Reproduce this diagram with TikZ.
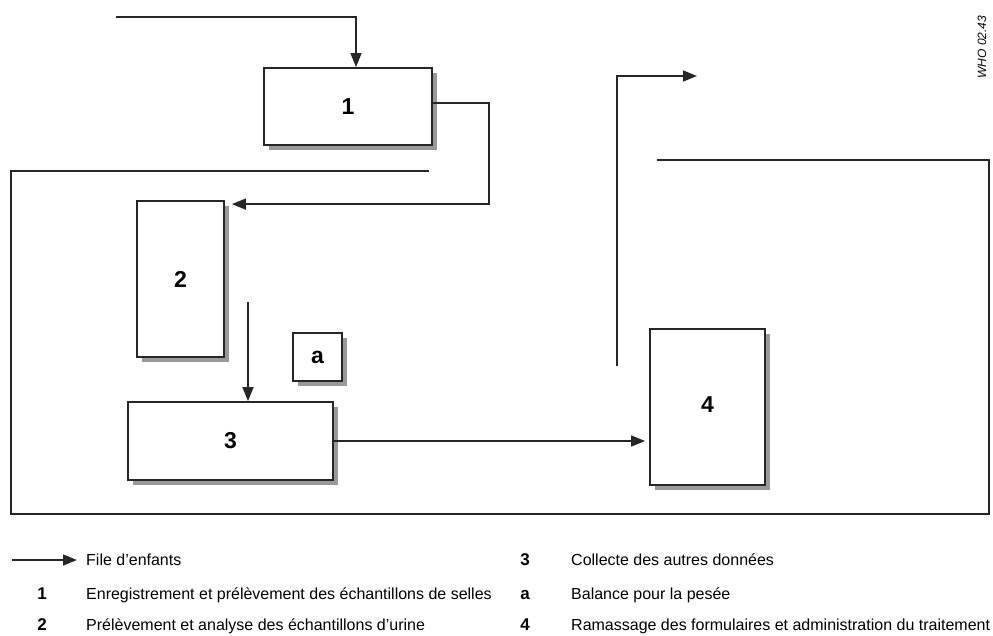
\documentclass[tikz,border=0pt]{standalone}
\usepackage{fontspec}
\setmainfont{Liberation Sans}
\usetikzlibrary{arrows.meta,shadows}
\begin{document}
\begin{tikzpicture}[x=1pt,y=-1pt,
  wall/.style={line width=1.7pt, draw=black!85},
  flow/.style={line width=1.5pt, draw=black!85, -{Triangle[length=14pt,width=11pt]}},
  room/.style={draw=black!85, line width=1.8pt, fill=white, inner sep=0pt,
     font=\fontsize{23}{26}\selectfont\bfseries,
     drop shadow={shadow xshift=5pt, shadow yshift=-5pt, fill=black!40, opacity=1}},
  lnum/.style={anchor=base, inner sep=0pt, font=\fontsize{17}{20}\selectfont\bfseries},
  ltext/.style={anchor=base west, inner sep=0pt, font=\fontsize{16}{19}\selectfont}
]
\useasboundingbox (0,0) rectangle (993,635);

% walls of the room
\draw[wall] (429,171) -- (11,171) -- (11,514) -- (989,514) -- (989,160) -- (657,160);

% stations
\node[room, minimum width=168pt, minimum height=77pt] (b1) at (348,106.5) {1};
\node[room, minimum width=87pt, minimum height=156pt] (b2) at (180.5,279) {2};
\node[room, minimum width=49pt, minimum height=48pt] (ba) at (317.5,357) {a};
\node[room, minimum width=205pt, minimum height=78pt] (b3) at (230.5,441) {3};
\node[room, minimum width=115pt, minimum height=156pt, text depth=0pt] (b4) at (707.5,407) {\raisebox{5pt}{4}};

% flow of children
\coordinate (in) at (116,17);
\draw[flow] (in) -| ([xshift=8pt]b1.north);
\draw[flow] ([yshift=3.5pt]b1.east) -- ++(56,0) |- ([xshift=7pt,yshift=-4pt]b2.north east);
\coordinate (d2) at (248,302);
\draw[flow] (d2) -- (d2 |- b3.north);
\draw[flow] (b3.east) -- ([xshift=-4pt]b3.east -| b4.west);
\coordinate (ex0) at (617,366);
\coordinate (ex1) at (697,76);
\draw[flow] (ex0) |- (ex1);

% code
\node[rotate=90, font=\fontsize{12}{14}\selectfont\itshape] (who) at (982,47) {WHO 02.43};

% legend
\node[ltext] (l0) at (86,565) {File d’enfants};
\coordinate (la) at (12,560);
\draw[flow, shorten >=9pt] (la) -- (la -| l0.west);
\node[lnum] (n1) at (42,599) {1};
\node[ltext] (t1) at (86,599) {Enregistrement et prélèvement des échantillons de selles};
\node[lnum] (n2) at (42,630) {2};
\node[ltext] (t2) at (86,630) {Prélèvement et analyse des échantillons d’urine};
\node[lnum] (n3) at (525,565) {3};
\node[ltext] (t3) at (571,565) {Collecte des autres données};
\node[lnum] (na) at (525,599) {a};
\node[ltext] (ta) at (571,599) {Balance pour la pesée};
\node[lnum] (n4) at (525,630) {4};
\node[ltext] (t4) at (571,630) {Ramassage des formulaires et administration du traitement};
\end{tikzpicture}
\end{document}
